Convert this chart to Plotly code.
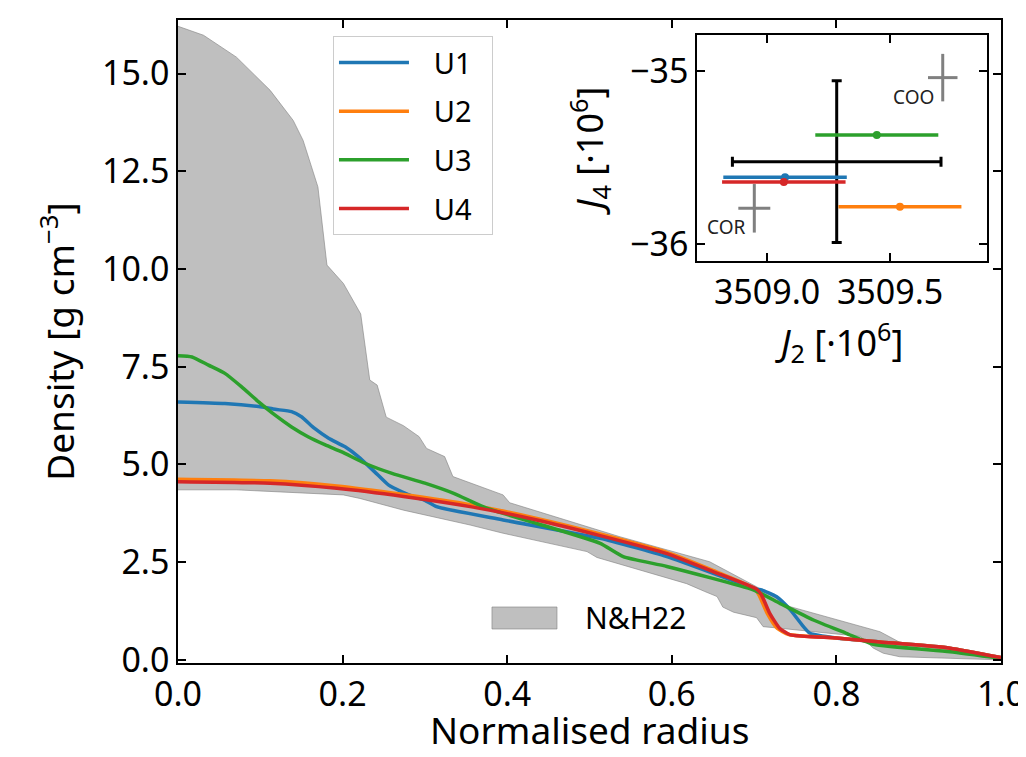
import plotly.graph_objects as go

# ---------------- main panel data ----------------
# N&H22 envelope (upper and lower edges)
nh_upper_r = [0.000, 0.031, 0.071, 0.112, 0.140, 0.152, 0.170, 0.181, 0.201, 0.222, 0.233, 0.242,
              0.253, 0.274, 0.293, 0.302, 0.324, 0.334, 0.395, 0.403, 0.537, 0.646, 0.703, 0.744,
              0.853, 0.877, 1.000]
nh_upper_d = [16.21, 15.98, 15.42, 14.57, 13.80, 13.29, 12.10, 10.10, 9.63, 8.85, 7.16, 7.03,
              6.21, 5.99, 5.71, 5.41, 5.20, 4.69, 4.22, 4.02, 3.15, 2.51, 1.87, 1.36,
              0.72, 0.45, 0.06]
nh_lower_r = [0.000, 0.071, 0.201, 0.221, 0.274, 0.355, 0.395, 0.497, 0.509, 0.537, 0.574, 0.618,
              0.640, 0.655, 0.662, 0.675, 0.703, 0.711, 0.731, 0.829, 0.845, 0.857, 0.877, 1.000]
nh_lower_d = [4.35, 4.35, 4.22, 4.13, 3.83, 3.45, 3.24, 2.77, 2.62, 2.45, 2.22, 1.95,
              1.75, 1.62, 1.35, 1.22, 1.08, 0.85, 0.81, 0.60, 0.30, 0.17, 0.08, 0.00]

u1_r = [0.000, 0.057, 0.098, 0.118, 0.138, 0.150, 0.166, 0.183, 0.203, 0.219, 0.239, 0.256, 0.272,
        0.290, 0.300, 0.314, 0.395, 0.513, 0.594, 0.703, 0.709, 0.727, 0.744, 0.760, 0.768, 0.800,
        0.853, 0.938, 1.000]
u1_d = [6.60, 6.56, 6.48, 6.41, 6.35, 6.22, 5.92, 5.67, 5.45, 5.20, 4.81, 4.47, 4.30,
        4.15, 4.08, 3.92, 3.58, 3.11, 2.64, 1.81, 1.79, 1.62, 1.28, 0.85, 0.68, 0.56,
        0.46, 0.30, 0.06]

u2_r = [0.000, 0.112, 0.193, 0.274, 0.355, 0.436, 0.513, 0.594, 0.650, 0.700, 0.706, 0.716,
        0.728, 0.742, 0.800, 0.853, 0.938, 1.000]
u2_d = [4.62, 4.58, 4.45, 4.23, 3.97, 3.62, 3.22, 2.75, 2.29, 1.83, 1.66, 1.19,
        0.81, 0.65, 0.56, 0.46, 0.30, 0.06]

u3_r = [0.000, 0.017, 0.037, 0.057, 0.077, 0.098, 0.118, 0.138, 0.158, 0.179, 0.199, 0.227,
        0.260, 0.300, 0.335, 0.375, 0.436, 0.513, 0.541, 0.594, 0.699, 0.731, 0.772, 0.812,
        0.845, 0.938, 1.000]
u3_d = [7.78, 7.75, 7.54, 7.33, 6.99, 6.60, 6.26, 5.96, 5.71, 5.50, 5.32, 5.03,
        4.77, 4.52, 4.26, 3.88, 3.49, 2.98, 2.64, 2.39, 1.79, 1.45, 1.02, 0.68,
        0.40, 0.21, 0.04]

u4_r = [0.000, 0.112, 0.193, 0.274, 0.355, 0.436, 0.513, 0.594, 0.650, 0.703, 0.709, 0.719,
        0.731, 0.744, 0.800, 0.853, 0.938, 1.000]
u4_d = [4.56, 4.52, 4.39, 4.18, 3.92, 3.58, 3.18, 2.72, 2.26, 1.81, 1.66, 1.19,
        0.81, 0.64, 0.56, 0.46, 0.30, 0.06]

model_names = ["U1", "U2", "U3", "U4"]
model_colors = ["#1f77b4", "#ff7f0e", "#2ca02c", "#d62728"]
band_name = "N&H22"
x_title = "Normalised radius"

x_ticks = [0.0, 0.2, 0.4, 0.6, 0.8, 1.0]
y_ticks = [0.0, 2.5, 5.0, 7.5, 10.0, 12.5, 15.0]

# ---------------- inset data (J2, J4 in 1e-6) ----------------
obs_j2, obs_j4 = 3509.283, -35.525
obs_j2_err, obs_j4_err = 0.424, 0.467
model_j2 = [3509.073, 3509.540, 3509.446, 3509.068]
model_j4 = [-35.615, -35.785, -35.371, -35.642]
model_j2_err = [0.251, 0.250, 0.250, 0.251]
ref_names = ["COO", "COR"]
ref_j2 = [3509.714, 3508.948]
ref_j4 = [-35.040, -35.794]
ref_j2_err = [0.060, 0.065]
ref_j4_err = [0.137, 0.140]
inset_x_ticks = [3509.0, 3509.5]
inset_y_ticks = [-35, -36]

FONT = "Noto Sans"
BAND_FILL = "rgba(128,128,128,0.5)"
BAND_EDGE = "rgba(128,128,128,0.6)"

fig = go.Figure()

# envelope
fig.add_trace(go.Scatter(x=nh_lower_r, y=nh_lower_d, mode="lines",
                         line=dict(color=BAND_EDGE, width=1),
                         showlegend=False, hoverinfo="skip"))
fig.add_trace(go.Scatter(x=nh_upper_r, y=nh_upper_d, mode="lines", fill="tonexty",
                         fillcolor=BAND_FILL, line=dict(color=BAND_EDGE, width=1),
                         name=band_name, showlegend=False))

for name, color, r, d in zip(model_names, model_colors,
                             [u1_r, u2_r, u3_r, u4_r], [u1_d, u2_d, u3_d, u4_d]):
    fig.add_trace(go.Scatter(x=r, y=d, mode="lines",
                             name="\u00a0\u00a0\u2009" + name + "\u00a0\u00a0",
                             legendgroup=name,
                             line=dict(color=color, width=3.5, shape="spline", smoothing=0.5)))

# inset: observation
fig.add_trace(go.Scatter(x=[obs_j2], y=[obs_j4], mode="markers", xaxis="x2", yaxis="y2",
                         marker=dict(size=1, color="black"), showlegend=False,
                         error_x=dict(type="data", array=[obs_j2_err], color="black", thickness=3, width=5),
                         error_y=dict(type="data", array=[obs_j4_err], color="black", thickness=3, width=5)))
# inset: reference crosses
for name, jx, jy, ex, ey in zip(ref_names, ref_j2, ref_j4, ref_j2_err, ref_j4_err):
    fig.add_trace(go.Scatter(x=[jx], y=[jy], mode="markers", xaxis="x2", yaxis="y2",
                             marker=dict(size=1, color="gray", opacity=0), showlegend=False,
                             error_x=dict(type="data", array=[ex], color="gray", thickness=3, width=0),
                             error_y=dict(type="data", array=[ey], color="gray", thickness=3, width=0)))
    fig.add_annotation(x=jx, y=jy, xref="x2", yref="y2", text=name, showarrow=False,
                       xanchor="right", yanchor="top", xshift=-7, yshift=-4,
                       font=dict(family=FONT, size=19, color="#222222"))
# inset: models
for name, color, jx, jy, ex in zip(model_names, model_colors, model_j2, model_j4, model_j2_err):
    fig.add_trace(go.Scatter(x=[jx], y=[jy], mode="markers", xaxis="x2", yaxis="y2",
                             marker=dict(size=8, color=color), showlegend=False,
                             error_x=dict(type="data", array=[ex], color=color, thickness=3.5, width=0)))

# second legend (envelope key): patch + label
fig.add_shape(type="rect", xref="paper", yref="paper", x0=0.3815, x1=0.4605, y0=0.0529, y1=0.0871,
              fillcolor=BAND_FILL, line=dict(color=BAND_EDGE, width=1), layer="above")
fig.add_annotation(x=0.4921, y=0.070, xref="paper", yref="paper", text=band_name, showarrow=False,
                   xanchor="left", yanchor="middle", font=dict(family=FONT, size=30, color="black"))

# x-axis title placed as paper annotation (so it can sit at the very bottom edge)
fig.add_annotation(x=0.5, y=-0.104, xref="paper", yref="paper", text=x_title, showarrow=False,
                   xanchor="center", yanchor="middle", font=dict(family=FONT, size=37, color="black"))

axis_common = dict(showline=True, linecolor="black", linewidth=1.5, mirror="ticks",
                   ticks="inside", ticklen=8, tickwidth=2, tickcolor="black",
                   showgrid=False, zeroline=False, automargin=False)

fig.update_layout(
    width=1010, height=741,
    margin=dict(l=170, r=17, t=12, b=86, autoexpand=False),
    paper_bgcolor="white", plot_bgcolor="white",
    font=dict(family=FONT, color="black"),
    xaxis=dict(range=[0, 1], tickvals=x_ticks, ticktext=[f"{v:.1f}" for v in x_ticks],
               tickfont=dict(size=34), ticklabeloverflow="allow",
               **axis_common),
    yaxis=dict(range=[-0.08, 16.37], tickvals=y_ticks, ticktext=[f"{v:.1f}" for v in y_ticks],
               tickfont=dict(size=34),
               title=dict(text="Density [g cm<sup>−3</sup>]", font=dict(size=37), standoff=16),
               **axis_common),
    xaxis2=dict(domain=[0.6306, 0.983], anchor="y2", range=[3508.715, 3509.894],
                tickvals=inset_x_ticks, ticktext=[f"{v:.1f}" for v in inset_x_ticks],
                tickfont=dict(size=34),
                title=dict(text="<i>J</i><sub>2</sub> [·10<sup>6</sup>]", font=dict(size=36), standoff=0),
                **axis_common),
    yaxis2=dict(domain=[0.6252, 0.9767], anchor="x2", range=[-36.098, -34.794],
                tickvals=inset_y_ticks, ticktext=[f"−{abs(v)}" for v in inset_y_ticks],
                tickfont=dict(size=34),
                title=dict(text="<i>J</i><sub>4</sub> [·10<sup>6</sup>]", font=dict(size=36), standoff=15),
                **axis_common),
    legend=dict(x=0.1883, y=0.975, xanchor="left", yanchor="top",
                bgcolor="white", bordercolor="#cccccc", borderwidth=1,
                font=dict(size=29), itemwidth=70, tracegroupgap=8, traceorder="grouped"),
)

fig.write_html("out.html")
